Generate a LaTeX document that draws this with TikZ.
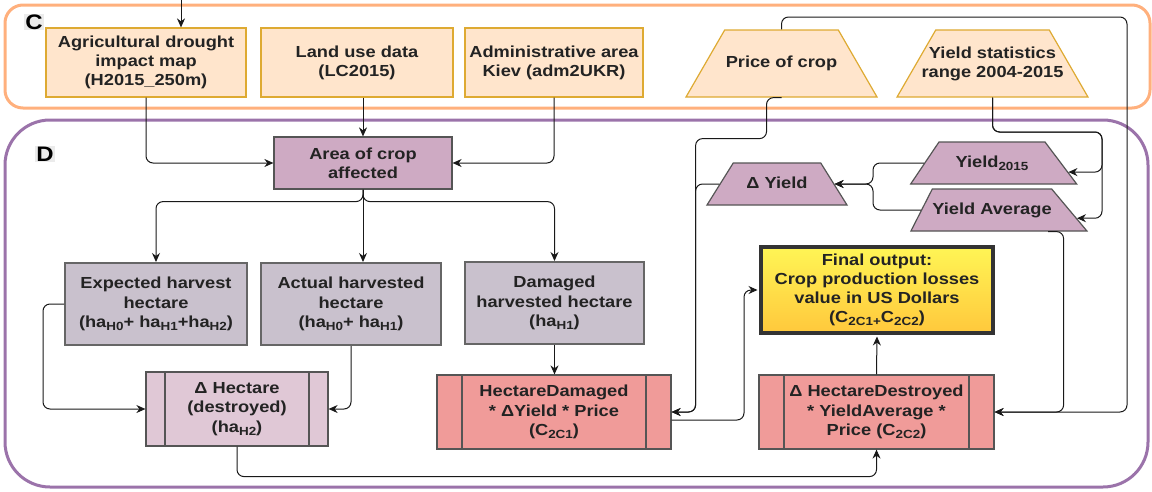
\documentclass[tikz,border=0pt]{standalone}
\usepackage{fontspec}
\setmainfont{Liberation Sans}[FakeStretch=1.14]
\usetikzlibrary{shapes.geometric,arrows.meta,calc}
\definecolor{grpC}{RGB}{255,176,125}
\definecolor{grpD}{RGB}{155,115,170}
\definecolor{peach}{RGB}{255,229,204}
\definecolor{peachline}{RGB}{222,170,50}
\definecolor{mauve}{RGB}{206,170,195}
\definecolor{lav}{RGB}{201,193,205}
\definecolor{pinkl}{RGB}{224,200,214}
\definecolor{salmon}{RGB}{240,155,153}
\definecolor{edgegray}{RGB}{85,85,85}
\definecolor{txt}{RGB}{35,35,35}
\definecolor{finTop}{RGB}{255,245,85}
\definecolor{finBot}{RGB}{255,200,60}
\newcommand\nf{\fontsize{16}{19.2}\selectfont\bfseries}
\newcommand\sbs[1]{\raisebox{-0.35ex}{\fontsize{11.8}{11.8}\selectfont #1}}
\tikzset{barinset/.store in=\barin, barinset=25pt}
\begin{document}
\begin{tikzpicture}[x=1pt,y=-1pt,
  conn/.style={draw=black!90, line width=1pt, rounded corners=7pt, -{Stealth[length=9pt,width=8pt]}},
  base/.style={align=center, text=txt, font=\nf, inner sep=2pt},
  inbox/.style={base, rectangle, draw=peachline, fill=peach, line width=1.2pt, minimum height=69pt},
  intrap/.style={base, trapezium, trapezium left angle=60, trapezium right angle=60, trapezium stretches body=true, draw=peachline, fill=peach, line width=1.2pt, minimum width=191pt, inner xsep=-22pt},
  mtrap/.style={base, trapezium, trapezium stretches body=true, draw=edgegray, fill=mauve, line width=1.2pt, inner xsep=-22pt, text height=11.6pt, text depth=3.4pt, inner ysep=13.5pt},
  hbox/.style={base, rectangle, draw=edgegray!90, fill=lav, line width=2pt, minimum height=82pt},
  procbox/.style={base, rectangle, draw=edgegray, fill=#1, line width=1.2pt, minimum height=74pt,
    path picture={\draw[edgegray, line width=1.2pt]
      ([xshift=\barin]path picture bounding box.north west) -- ([xshift=\barin]path picture bounding box.south west)
      ([xshift=-\barin]path picture bounding box.north east) -- ([xshift=-\barin]path picture bounding box.south east);}},
  grplabel/.style={font=\fontsize{21}{21}\selectfont\bfseries, fill=black!8, inner sep=1pt, text=black}
]
\useasboundingbox (0,0) rectangle (1152,491);
% groups
\draw[grpC, line width=3pt, rounded corners=18pt] (5,5) rectangle (1150,108);
\draw[grpD, line width=3pt, rounded corners=45pt] (5,120) rectangle (1148,487);
\node[grplabel] (lblC) at (34,22) {C};
\node[grplabel] (lblD) at (45,154) {D};
% group C nodes
\node[inbox, minimum width=200pt] (agri) at (146,62.5) {Agricultural drought\\impact map\\(H2015\_250m)};
\node[inbox, minimum width=192pt] (land) at (357,62.5) {Land use data\\(LC2015)};
\node[inbox, minimum width=178pt] (admin) at (554,62.5) {Administrative area\\Kiev (adm2UKR)};
\node[intrap, text height=11.6pt, text depth=3.4pt, inner ysep=26pt] (price) at (781.5,63.5) {Price of crop};
\node[intrap, inner ysep=16.5pt] (ys) at (992.5,63.5) {Yield statistics\\range 2004-2015};
% group D nodes
\node[base, rectangle, draw=edgegray, fill=mauve, line width=1.2pt, minimum width=178pt, minimum height=52pt] (area) at (363,163) {Area of crop\\affected};
\node[mtrap, trapezium left angle=58, trapezium right angle=58, minimum width=140pt] (dy) at (777,184) {Δ Yield};
\node[mtrap, trapezium left angle=56, trapezium right angle=53, minimum width=166pt] (y15) at (992,163) {Yield\sbs{2015}};
\node[mtrap, trapezium left angle=63, trapezium right angle=50, minimum width=176pt] (ya) at (992,210) {Yield Average};
\node[hbox, minimum width=182pt] (exp) at (156,304) {Expected harvest\\hectare\\(ha\sbs{H0}+ ha\sbs{H1}+ha\sbs{H2})};
\node[hbox, minimum width=180pt] (act) at (351,304) {Actual harvested\\hectare\\(ha\sbs{H0}+ ha\sbs{H1})};
\node[hbox, minimum width=179pt] (dam) at (554.5,303) {Damaged\\harvested hectare\\(ha\sbs{H1})};
\node[base, rectangle, draw=black!80, line width=4pt, top color=finTop, bottom color=finBot, minimum width=232pt, minimum height=86pt] (final) at (877,290) {Final output:\\Crop production losses\\value in US Dollars\\(C\sbs{2C1+}C\sbs{2C2})};
\node[procbox=pinkl, barinset=19pt, minimum width=182pt] (dh) at (237,409) {Δ Hectare\\(destroyed)\\(ha\sbs{H2})};
\node[procbox=salmon, barinset=25pt, minimum width=234pt] (hd) at (554,412) {HectareDamaged\\* ΔYield * Price\\(C\sbs{2C1})};
\node[procbox=salmon, barinset=25pt, minimum width=235pt] (hdd) at (876.5,412) {Δ HectareDestroyed\\* YieldAverage *\\Price (C\sbs{2C2})};
% helper coordinates
\coordinate (topin) at (181,0);
\coordinate (ymerge) at (873,184);
\coordinate (ysr) at (1102,132);
\coordinate (loopTR) at (1127,17);
\coordinate (y15r) at ($(y15.top right corner)!0.71!(y15.bottom right corner)$);
\coordinate (yar) at ($(ya.top right corner)!0.69!(ya.bottom right corner)$);
% connectors
\draw[conn] (topin) -- (topin |- agri.north);
\draw[conn] (agri.south) |- (area.west);
\draw[conn] (land.south -| area.north) -- (area.north);
\draw[conn] (admin.south) |- (area.east);
\draw[conn] (area.south) -- ++(0,12) -| (exp.north);
\draw[conn] (area.south) -- (area.south |- act.north);
\draw[conn] (area.south) -- ++(0,12) -| (dam.north);
\draw[conn] (exp.west) -- ++(-21,0) |- (dh.west);
\draw[conn] (act.south) |- (dh.east);
\draw[conn] (dam.south) -- (dam.south |- hd.north);
\draw[conn] (dh.south) -- ++(0,30) -| (hdd.south);
\draw[conn, shorten >=1.5pt] (hdd.north) -- (final.south);
\draw[conn, shorten >=1.5pt] ([yshift=-8pt]hd.east) -| ([xshift=-15pt]final.west) -- (final.west);
\draw[conn] (price.south) -- ++(-15,0) -- ++(0,41) -| ([xshift=24pt]hd.east) -- (hd.east);
\draw[conn] (dy.west) -| ([xshift=24pt]hd.east) -- (hd.east);
\draw[conn] (y15.west) -| (ymerge) -- (dy.east);
\draw[conn] (ya.west) -| (ymerge) -- (dy.east);
\draw[conn] (ys.south) |- (ysr) |- (y15r);
\draw[conn] (ys.south) |- (ysr) |- (yar);
\draw[conn] ($(ya.bottom right corner)+(-40,0)$) -| ([xshift=69pt]hdd.east) -- (hdd.east);
\draw[conn] (price.north) |- (loopTR) |- (hdd.east);
\end{tikzpicture}
\end{document}
